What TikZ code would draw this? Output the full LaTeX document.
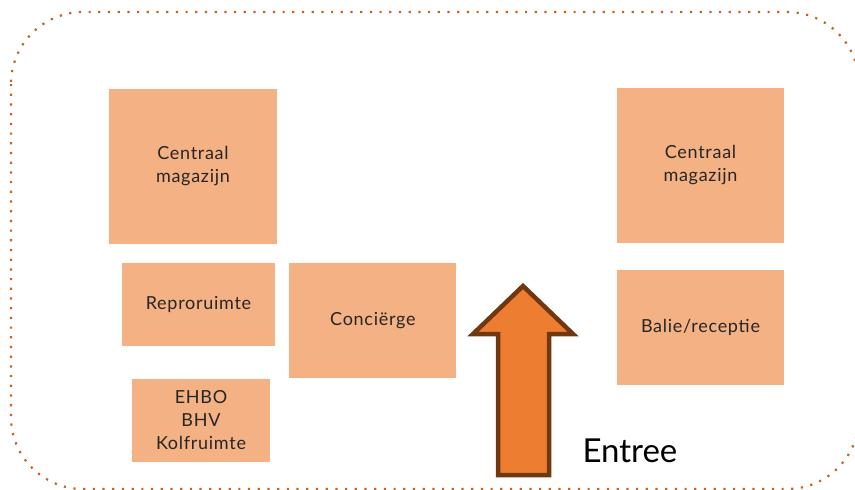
\documentclass[tikz,border=0pt]{standalone}
\usepackage{fontspec}
\setmainfont{Lato}
\newfontfamily\roomfont[LetterSpace=4]{Lato}
\usetikzlibrary{positioning}
\definecolor{roomfill}{HTML}{F4B183}
\definecolor{wallline}{HTML}{C8621E}
\definecolor{arrowfill}{HTML}{ED7D31}
\definecolor{arrowline}{HTML}{70380F}

\begin{document}
\begin{tikzpicture}[x=1pt, y=-1pt,
    room/.style={fill=roomfill, align=center, font=\roomfont\fontsize{18}{23}\selectfont, text=black!85},
    node distance=10pt]
    \useasboundingbox (0,0) rectangle (855,490);
    % buitenmuur, gestippeld
    \draw[wallline, line width=2.2pt, dash pattern=on 2.2pt off 7.5pt, rounded corners=72pt]
        (11,12) rectangle (859,489);

    % linker kant
    \node[room, minimum width=168pt, minimum height=155pt] (Magazijn L) at (193,166.5) {Centraal\\magazijn};
    \node[room, minimum width=153pt, minimum height=83pt]  (Repro)      at (198.5,304.5) {Reproruimte};
    \node[room, minimum width=138pt, minimum height=83pt]  (EHBO)       at (201,420.5) {EHBO\\BHV\\Kolfruimte};
    \node[room, minimum width=167pt, minimum height=115pt, right=14pt of Repro.north east, anchor=north west] (Concierge) {Conciërge};

    % rechter kant
    \node[room, minimum width=167pt, minimum height=155pt] (Magazijn R) at (700.5,165.5) {Centraal\\magazijn};
    \node[room, minimum width=167pt, minimum height=115pt, below=27pt of Magazijn R] (Balie) {Balie/receptie};

    % ingang
    \draw[arrowline, fill=arrowfill, line width=4.5pt, line join=miter]
        (523,286) -- (573,334) -- (549,334) -- (549,475) -- (498,475) -- (498,334) -- (473,334) -- cycle;
    \node[font=\fontsize{33}{38}\selectfont, anchor=base west] (Entree) at (579,462) {Entree};
\end{tikzpicture}
\end{document}
